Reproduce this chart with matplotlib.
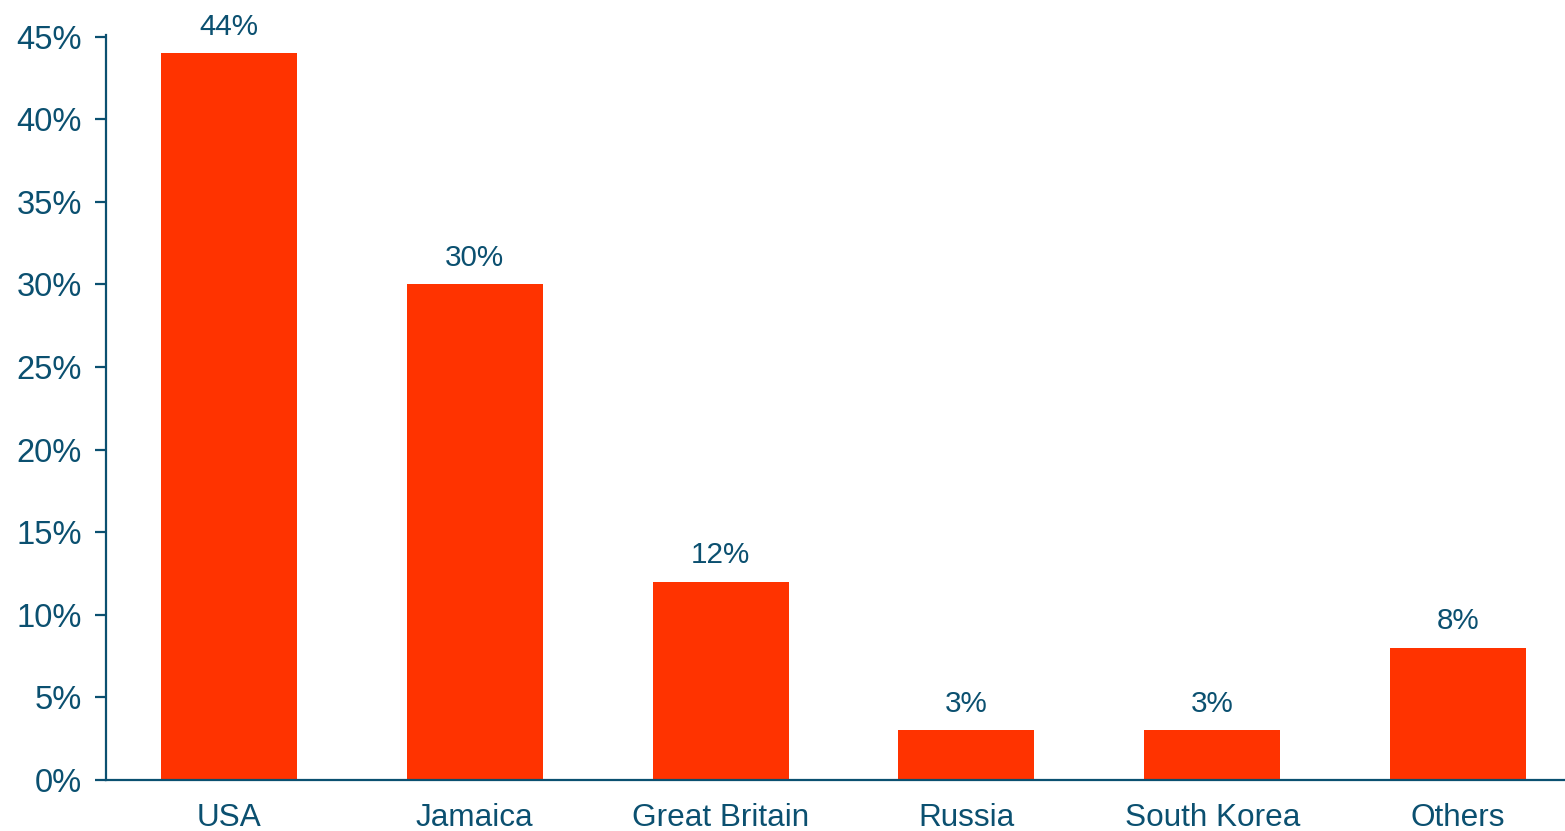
import matplotlib
matplotlib.use("Agg")
import matplotlib.pyplot as plt
from matplotlib.ticker import FuncFormatter

categories = ["USA", "Jamaica", "Great Britain", "Russia", "South Korea", "Others"]
values = [0.44, 0.30, 0.12, 0.03, 0.03, 0.08]
yticks = [0, 0.05, 0.10, 0.15, 0.20, 0.25, 0.30, 0.35, 0.40, 0.45]

BAR = "#FF3300"
TXT = "#0B5070"

plt.rcParams['font.family'] = ['Liberation Sans', 'DejaVu Sans']

W, H = 1565, 831
fig = plt.figure(figsize=(W / 100, H / 100), dpi=100)
ax = fig.add_axes([106 / W, (H - 780) / H, (W - 106) / W, (780 - 35) / H])

x = list(range(len(categories)))
bars = ax.bar(x, values, width=0.553, color=BAR, zorder=2)
for xi, v in zip(x, values):
    ax.annotate(f"{v*100:.0f}%", (xi, v), xytext=(0, 9), textcoords="offset points",
                ha="center", va="bottom", fontsize=21.3, color=TXT)

ax.set_xlim(-0.5, (W - 228) / 246.0)
ax.set_ylim(0, 0.451)
ax.set_xticks(x)
ax.set_xticklabels(categories)
ax.set_yticks(yticks)
ax.yaxis.set_major_formatter(FuncFormatter(lambda v, p: f"{v*100:.0f}%"))

for s in ["top", "right"]:
    ax.spines[s].set_visible(False)
for s in ["left", "bottom"]:
    ax.spines[s].set_color(TXT)
    ax.spines[s].set_linewidth(1.6)

ax.tick_params(axis="y", length=8, width=1.6, color=TXT, labelcolor=TXT, labelsize=23.5, pad=9.5)
ax.tick_params(axis="x", length=0, labelcolor=TXT, labelsize=22.7, pad=16.5)

fig.savefig("out.png", dpi=100)
